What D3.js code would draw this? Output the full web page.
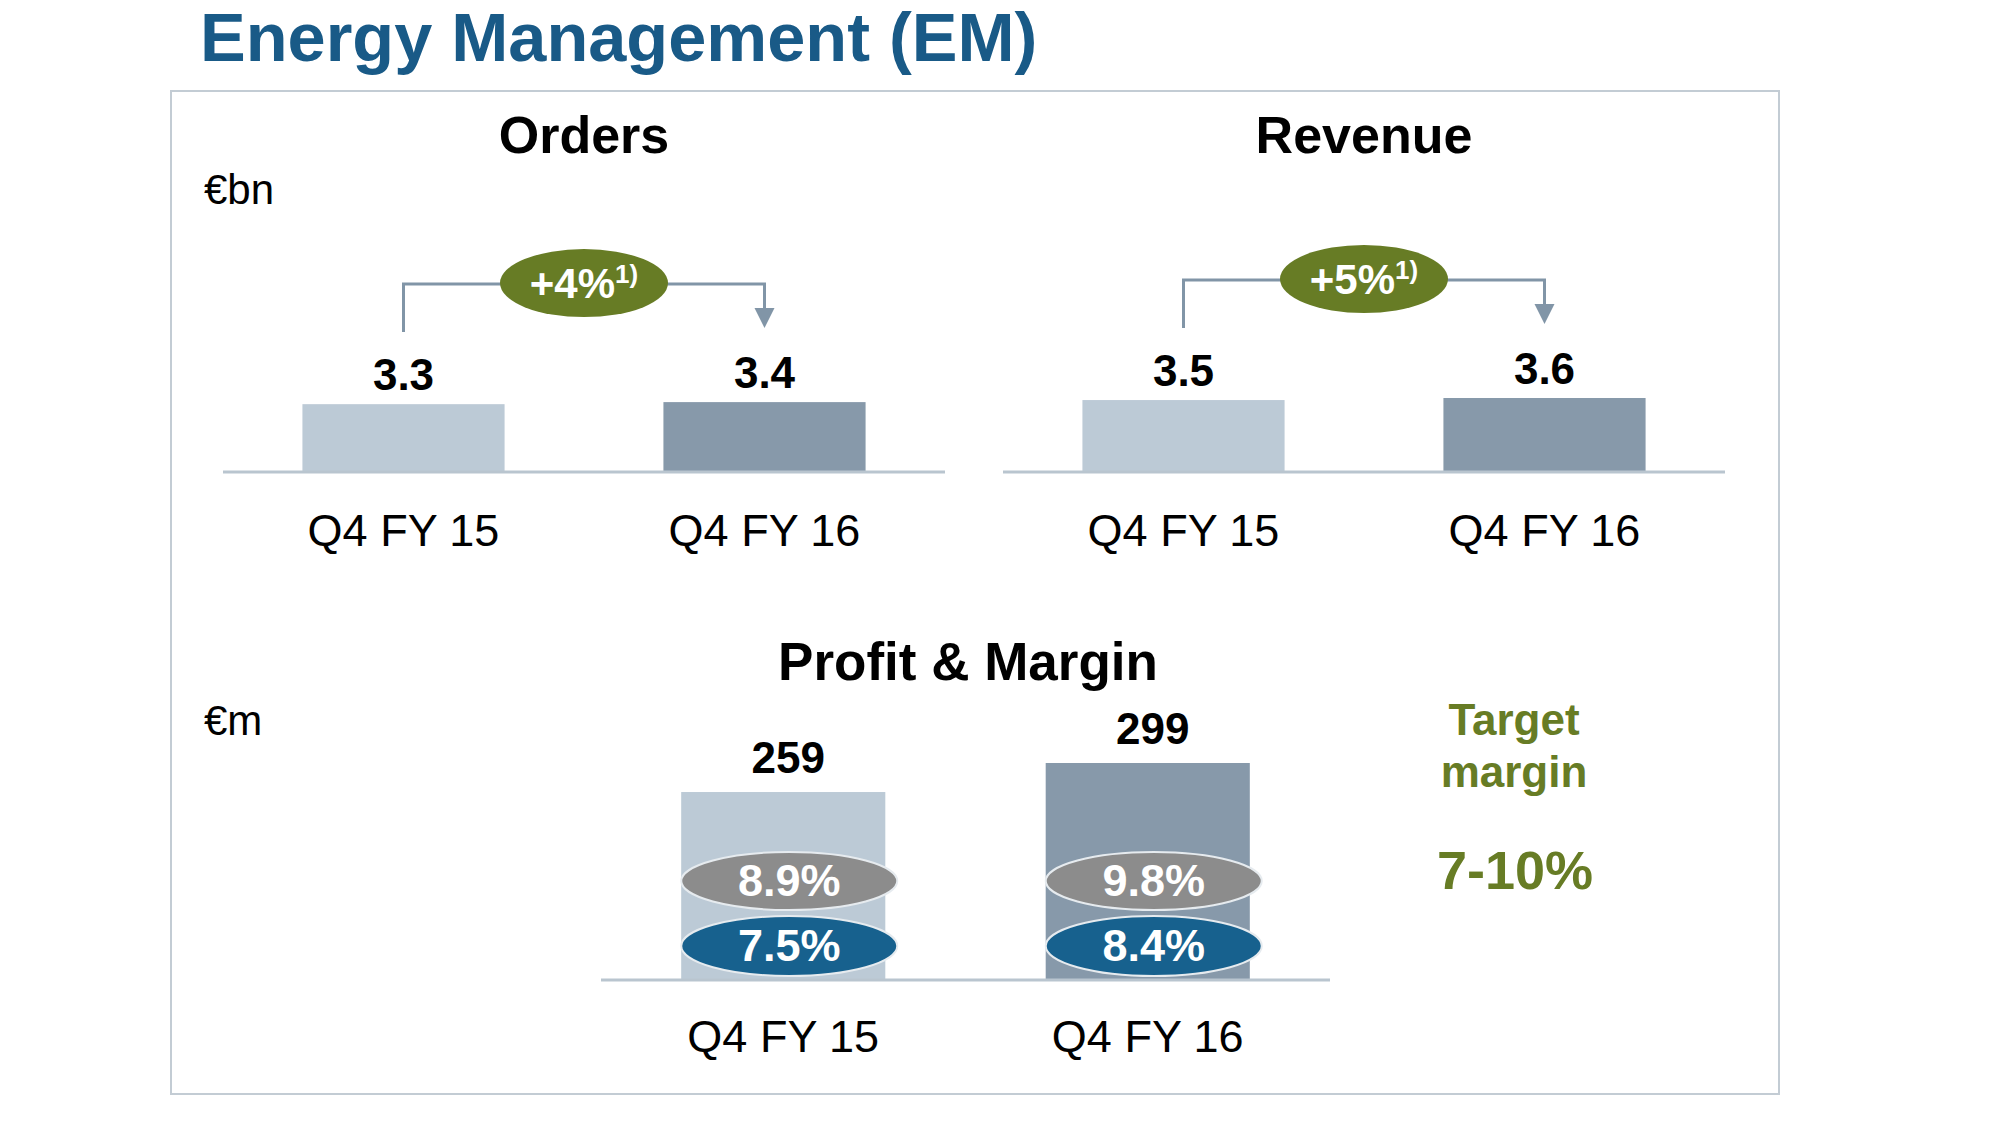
<!DOCTYPE html>
<html>
<head>
<meta charset="utf-8">
<script src="https://cdn.jsdelivr.net/npm/d3@7"></script>
<style>
  body { margin: 0; background: #fff; }
  svg text { font-family: "Liberation Sans", Arial, sans-serif; }
</style>
</head>
<body>
<div id="chart"></div>
<script>
// data
const periods = ["Q4 FY 15", "Q4 FY 16"];
const orders = [3.3, 3.4];
const revenue = [3.5, 3.6];
const ordersGrowth = "+4%";
const revenueGrowth = "+5%";
const profit = [259, 299];
const marginGray = ["8.9%", "9.8%"];
const marginBlue = ["7.5%", "8.4%"];
const targetMargin = "7-10%";

// svg size
const width = 2000;
const height = 1125;

// colours
const lightBar = "#bccad6";
const darkBar = "#8799aa";
const axisColor = "#b9c5cf";
const arrowColor = "#8195a7";
const green = "#677c25";
const titleBlue = "#195a87";

const svg = d3.select("#chart").append("svg")
    .attr("width", width)
    .attr("height", height);

// title
svg.append("text")
    .attr("x", 200).attr("y", 61)
    .attr("font-size", 68.5).attr("font-weight", "bold")
    .attr("fill", titleBlue)
    .text("Energy Management (EM)");

// frame
svg.append("rect")
    .attr("x", 171).attr("y", 91)
    .attr("width", 1608).attr("height", 1003)
    .attr("fill", "none")
    .attr("stroke", "#c3ccd4")
    .attr("stroke-width", 2);

// units
svg.append("text").attr("x", 204).attr("y", 204)
    .attr("font-size", 42).text("€bn");
svg.append("text").attr("x", 204).attr("y", 735)
    .attr("font-size", 42).text("€m");

// small bar panel with growth bracket
function smallPanel(values, growth, title, x0, x1) {
    const baseY = 472;
    const x = d3.scaleBand().domain(periods).range([x0, x1])
        .paddingInner(0.44).paddingOuter(0.22);
    const y = d3.scaleLinear().domain([0, 3.6]).range([baseY, 398]);
    const g = svg.append("g");

    g.append("text")
        .attr("x", (x0 + x1) / 2).attr("y", 153)
        .attr("text-anchor", "middle")
        .attr("font-size", 52).attr("font-weight", "bold")
        .text(title);

    g.selectAll("rect.bar").data(values).join("rect")
        .attr("class", "bar")
        .attr("x", (d, i) => x(periods[i]))
        .attr("width", x.bandwidth())
        .attr("y", d => y(d))
        .attr("height", d => baseY - y(d))
        .attr("fill", (d, i) => i === 0 ? lightBar : darkBar);

    g.append("line")
        .attr("x1", x0).attr("x2", x1)
        .attr("y1", baseY).attr("y2", baseY)
        .attr("stroke", axisColor).attr("stroke-width", 3);

    g.selectAll("text.val").data(values).join("text")
        .attr("class", "val")
        .attr("x", (d, i) => x(periods[i]) + x.bandwidth() / 2)
        .attr("y", d => y(d) - 14)
        .attr("text-anchor", "middle")
        .attr("font-size", 44).attr("font-weight", "bold")
        .text(d => d.toFixed(1));

    g.selectAll("text.cat").data(periods).join("text")
        .attr("class", "cat")
        .attr("x", d => x(d) + x.bandwidth() / 2)
        .attr("y", 546)
        .attr("text-anchor", "middle")
        .attr("font-size", 45)
        .text(d => d);

    // bracket arrow
    const cx0 = x(periods[0]) + x.bandwidth() / 2;
    const cx1 = x(periods[1]) + x.bandwidth() / 2;
    const top = y(d3.max(values)) - 118;
    const tip = top + 44;
    g.append("path")
        .attr("d", `M${cx0},${top + 48} V${top} H${cx1} V${tip - 18}`)
        .attr("fill", "none")
        .attr("stroke", arrowColor).attr("stroke-width", 3);
    g.append("path")
        .attr("d", `M${cx1 - 10},${tip - 20} L${cx1 + 10},${tip - 20} L${cx1},${tip} Z`)
        .attr("fill", arrowColor);

    const ex = (cx0 + cx1) / 2;
    g.append("ellipse")
        .attr("cx", ex).attr("cy", top - 1)
        .attr("rx", 84).attr("ry", 34)
        .attr("fill", green);
    const t = g.append("text")
        .attr("x", ex).attr("y", top + 14)
        .attr("text-anchor", "middle")
        .attr("fill", "#fff").attr("font-weight", "bold");
    t.append("tspan").attr("font-size", 42).text(growth);
    t.append("tspan").attr("font-size", 26).attr("dy", -15).text("1)");
}

smallPanel(orders, ordersGrowth, "Orders", 223, 945);
smallPanel(revenue, revenueGrowth, "Revenue", 1003, 1725);

// profit & margin panel
function profitPanel() {
    const x0 = 601, x1 = 1330, baseY = 980;
    const x = d3.scaleBand().domain(periods).range([x0, x1])
        .paddingInner(0.44).paddingOuter(0.22);
    const y = d3.scaleLinear().domain([0, 299]).range([baseY, 763]);
    const g = svg.append("g");

    g.append("text")
        .attr("x", 968).attr("y", 680)
        .attr("text-anchor", "middle")
        .attr("font-size", 53).attr("font-weight", "bold")
        .text("Profit & Margin");

    g.selectAll("rect.bar").data(profit).join("rect")
        .attr("class", "bar")
        .attr("x", (d, i) => x(periods[i]))
        .attr("width", x.bandwidth())
        .attr("y", d => y(d))
        .attr("height", d => baseY - y(d))
        .attr("fill", (d, i) => i === 0 ? lightBar : darkBar);

    g.append("line")
        .attr("x1", x0).attr("x2", x1)
        .attr("y1", baseY).attr("y2", baseY)
        .attr("stroke", axisColor).attr("stroke-width", 3);

    g.selectAll("text.val").data(profit).join("text")
        .attr("class", "val")
        .attr("x", (d, i) => x(periods[i]) + x.bandwidth() / 2 + 5)
        .attr("y", d => y(d) - 19)
        .attr("text-anchor", "middle")
        .attr("font-size", 44).attr("font-weight", "bold")
        .text(d => d);

    g.selectAll("text.cat").data(periods).join("text")
        .attr("class", "cat")
        .attr("x", d => x(d) + x.bandwidth() / 2)
        .attr("y", 1052)
        .attr("text-anchor", "middle")
        .attr("font-size", 45)
        .text(d => d);

    const pills = [
        { labels: marginGray, cy: 881, ry: 29, fill: "#8c8c8c" },
        { labels: marginBlue, cy: 946, ry: 30, fill: "#17618e" }
    ];
    pills.forEach(p => {
        g.selectAll(null).data(p.labels).join("ellipse")
            .attr("cx", (d, i) => x(periods[i]) + x.bandwidth() / 2 + 6)
            .attr("cy", p.cy)
            .attr("rx", 108).attr("ry", p.ry)
            .attr("fill", p.fill)
            .attr("stroke", "#e6ebef").attr("stroke-width", 2);
        g.selectAll(null).data(p.labels).join("text")
            .attr("x", (d, i) => x(periods[i]) + x.bandwidth() / 2 + 6)
            .attr("y", p.cy + 15)
            .attr("text-anchor", "middle")
            .attr("fill", "#fff")
            .attr("font-size", 45).attr("font-weight", "bold")
            .text(d => d);
    });

    // target margin
    g.append("text").attr("x", 1514).attr("y", 735)
        .attr("text-anchor", "middle").attr("fill", green)
        .attr("font-size", 44).attr("font-weight", "bold").text("Target");
    g.append("text").attr("x", 1514).attr("y", 787)
        .attr("text-anchor", "middle").attr("fill", green)
        .attr("font-size", 44).attr("font-weight", "bold").text("margin");
    g.append("text").attr("x", 1515).attr("y", 889)
        .attr("text-anchor", "middle").attr("fill", green)
        .attr("font-size", 54).attr("font-weight", "bold").text(targetMargin);
}

profitPanel();
</script>
</body>
</html>
